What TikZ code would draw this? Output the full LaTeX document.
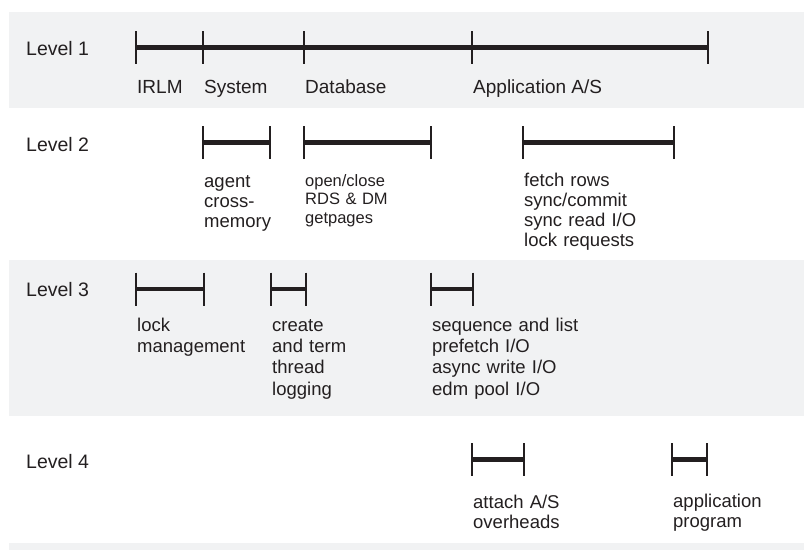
\documentclass[tikz,border=0pt]{standalone}
\usepackage{fontspec}
\setmainfont{Liberation Sans}
\definecolor{band}{HTML}{F1F2F3}
\definecolor{ink}{HTML}{231F20}
\tikzset{
  bandfill/.style={fill=band, draw=none},
  barline/.style={draw=ink, line width=4.5pt},
  tickline/.style={draw=ink, line width=2.3pt},
  levellabel/.style={anchor=base west, inner sep=0pt, text=ink, font=\fontsize{19.5}{22}\selectfont},
  toplabel/.style={anchor=base west, inner sep=0pt, text=ink, font=\fontsize{19}{22}\selectfont},
  desc/.style={anchor=base west, inner sep=0pt, text=ink, text width=260pt, align=left},
  descA/.style={desc, font=\fontsize{18.5}{20}\selectfont},
  descS/.style={desc, font=\fontsize{16.5}{18.7}\selectfont},
  descB/.style={desc, font=\fontsize{18.5}{21.4}\selectfont},
}
\newcommand{\spanbar}[3]{%
  \draw[barline] (#1,#3) -- (#2,#3);
  \draw[tickline] (#1,{#3-16.5}) -- (#1,{#3+16.5});
  \draw[tickline] (#2,{#3-16.5}) -- (#2,{#3+16.5});
}
\newcommand{\tickat}[2]{%
  \draw[tickline] (#1,{#2-16.5}) -- (#1,{#2+16.5});
}
\begin{document}
\begin{tikzpicture}[x=1pt, y=-1pt]
\useasboundingbox (0,0) rectangle (804,550);
% background bands
\fill[bandfill] (9,12) rectangle (804,108);
\fill[bandfill] (9,260) rectangle (804,416);
\fill[bandfill] (9,543) rectangle (804,550);

% level labels
\node[levellabel] (lv1) at (26,55) {Level 1};
\node[levellabel] (lv2) at (26,151) {Level 2};
\node[levellabel] (lv3) at (26,296) {Level 3};
\node[levellabel] (lv4) at (26,468) {Level 4};

% Level 1
\draw[barline] (136,47.5) -- (708,47.5);
\tickat{136}{47.5}
\tickat{203}{47.5}
\tickat{304}{47.5}
\tickat{472}{47.5}
\tickat{708}{47.5}
\node[toplabel] (irlm) at (137,93) {IRLM};
\node[toplabel] (sys) at (204,93) {System};
\node[toplabel] (db) at (305,93) {Database};
\node[toplabel] (app) at (473,93) {Application A/S};

% Level 2
\spanbar{203}{270}{142.5}
\spanbar{304}{431}{142.5}
\spanbar{523}{674}{142.5}
\node[descA] (agent) at (204,187) {agent\\cross-\\memory};
\node[descS] (open) at (305,186) {open/close\\RDS \& DM\\getpages};
\node[descA] (fetch) at (524,186) {fetch rows\\sync/commit\\sync read I/O\\lock requests};

% Level 3
\spanbar{136}{204}{289}
\spanbar{271}{306}{289}
\spanbar{431}{473}{289}
\node[descB] (lock) at (137,331) {lock\\management};
\node[descB] (create) at (272,331) {create\\and term\\thread\\logging};
\node[descB] (seq) at (432,331) {sequence and list\\prefetch I/O\\async write I/O\\edm pool I/O};

% Level 4
\spanbar{472}{524}{459.5}
\spanbar{672}{707}{459.5}
\node[descA] (attach) at (473,508) {attach A/S\\overheads};
\node[descA] (prog) at (673,507) {application\\program};
\end{tikzpicture}
\end{document}
